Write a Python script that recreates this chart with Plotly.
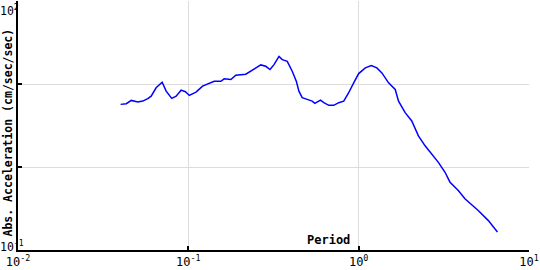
import plotly.graph_objects as go

# Period (sec) and absolute acceleration (cm/sec/sec)
period = [0.04003, 0.04322, 0.04624, 0.04833, 0.05052, 0.0540, 0.0578, 0.0605, 0.0647, 0.0702,
          0.0741, 0.0799, 0.0848, 0.0907, 0.0961, 0.1013, 0.1109, 0.1212, 0.1327, 0.1419,
          0.1553, 0.1623, 0.1777, 0.1900, 0.2175, 0.2326, 0.2488, 0.2662, 0.2848, 0.3017,
          0.3184, 0.3405, 0.3560, 0.3808, 0.4073, 0.4310, 0.4458, 0.4661, 0.4986, 0.5333,
          0.5531, 0.5970, 0.6242, 0.6677, 0.7142, 0.7638, 0.8170, 0.8739, 0.9349, 1.000,
          1.094, 1.187, 1.279, 1.369, 1.498, 1.639, 1.714, 1.875, 2.050, 2.243,
          2.455, 2.684, 2.937, 3.214, 3.438, 3.845, 4.207, 5.032, 5.757, 6.526]
accel = [5.682, 5.793, 6.345, 6.223, 6.053, 6.223, 6.650, 7.144, 9.005, 10.51,
         8.199, 6.705, 7.144, 8.428, 8.065, 7.283, 7.976, 9.412, 10.14, 10.80,
         10.80, 11.54, 11.32, 12.75, 13.11, 14.23, 15.63, 16.98, 16.34, 14.92,
         17.12, 21.52, 19.65, 18.75, 14.23, 10.71, 8.199, 6.836, 6.523, 6.223,
         5.840, 6.397, 5.955, 5.528, 5.528, 5.955, 6.223, 7.845, 10.33, 13.36,
         15.63, 16.65, 15.63, 13.62, 10.33, 8.6, 6.223, 4.520, 3.585, 2.371,
         1.799, 1.431, 1.138, 0.864, 0.656, 0.520, 0.414, 0.2997, 0.2275, 0.1652]

x_range_exp = [-2, 1]
y_range_exp = [-1, 2]
x_tick_vals = [0.01, 0.1, 1, 10]
x_tick_text = ["10<sup>-2</sup>", "10<sup>-1</sup>", "10<sup>0</sup>", "10<sup>1</sup>"]
y_tick_vals = [0.1, 1, 10, 100]
y_label_exps = [2, -1]
y_labels = ["10<sup>2</sup>", "10<sup>-1</sup>"]
x_title = "Period"
y_title = "Abs. Acceleration (cm/sec/sec)"

MONO = "DejaVu Sans Mono"

fig = go.Figure()
fig.add_trace(go.Scatter(x=period, y=accel, mode="lines",
                         line=dict(color="#0000ff", width=1.5),
                         showlegend=False, hoverinfo="skip"))

fig.update_layout(
    width=540, height=270,
    margin=dict(l=18, r=8, t=1, b=18),
    paper_bgcolor="white", plot_bgcolor="white",
    font=dict(family=MONO, size=12, color="black"),
)
fig.update_xaxes(type="log", range=x_range_exp, tickvals=x_tick_vals, ticktext=x_tick_text,
                 showgrid=True, gridcolor="#dcdcdc", gridwidth=1,
                 showline=True, linecolor="black", linewidth=1.5,
                 ticks="inside", ticklen=4, tickcolor="black", tickwidth=1.5,
                 ticklabeloverflow="allow",
                 tickfont=dict(family=MONO, size=12), zeroline=False)
fig.update_yaxes(type="log", range=y_range_exp, tickvals=y_tick_vals,
                 ticktext=["", "", "", ""],
                 showgrid=True, gridcolor="#dcdcdc", gridwidth=1,
                 showline=True, linecolor="black", linewidth=1.5,
                 ticks="inside", ticklen=4, tickcolor="black", tickwidth=1.5,
                 zeroline=False)

# y tick labels (only the end decades are labelled in the reference)
for e, txt in zip(y_label_exps, y_labels):
    top = e == y_range_exp[1]
    fig.add_annotation(x=0, xref="paper", y=e, yref="y", text=txt, showarrow=False,
                       xanchor="left", yanchor="top" if top else "bottom",
                       xshift=-19, yshift=-1 if top else -5, borderpad=0,
                       font=dict(family=MONO, size=11.5, color="black"))

fig.add_annotation(x=0, xref="paper", y=0.5, yref="paper", text="<b>" + y_title + "</b>",
                   textangle=-90, showarrow=False, xanchor="center", yanchor="middle",
                   xshift=-11, yshift=-7, font=dict(family=MONO, size=11.5, color="black"))
fig.add_annotation(x=0.607, xref="paper", y=0, yref="paper", text="<b>" + x_title + "</b>",
                   showarrow=False, xanchor="center", yanchor="bottom",
                   yshift=1, font=dict(family=MONO, size=12, color="black"))

fig.write_html("out.html")
